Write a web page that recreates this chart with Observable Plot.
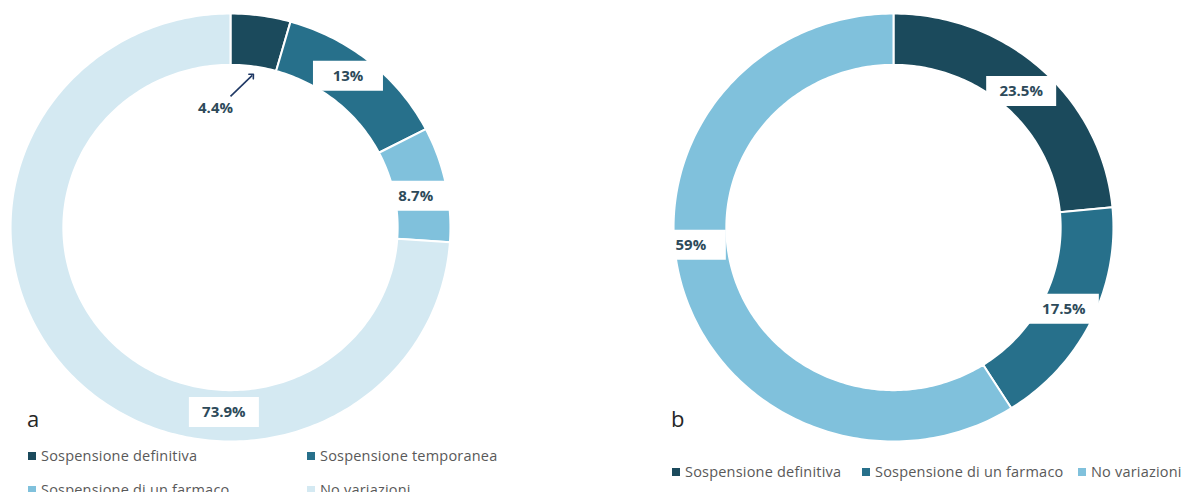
<!DOCTYPE html>
<html><head><meta charset="utf-8">
<script src="https://cdn.jsdelivr.net/npm/d3@7"></script>
<script src="https://cdn.jsdelivr.net/npm/@observablehq/plot@0.6"></script>
<style>
body{margin:0;background:#fff;font-family:"Open Sans",sans-serif;}
#root{position:relative;width:1192px;height:492px;overflow:hidden;background:#fff;}
.chart{position:absolute;top:0;}
.panel{position:absolute;font-size:22px;line-height:22px;color:#262626;}
.legend{position:absolute;font-size:14.5px;letter-spacing:0.2px;line-height:20px;height:20px;color:#595959;white-space:nowrap;}
.legend i{position:absolute;left:0;top:6px;width:8px;height:8px;}
.legend span{position:absolute;left:13px;top:0;}
</style></head><body><div id="root"></div>
<script>
// ---- Data: chart a ----
const categoriesA = ["Sospensione definitiva", "Sospensione temporanea", "Sospensione di un farmaco", "No variazioni"];
const valuesA = [4.4, 13, 8.7, 73.9];
const labelsA = ["4.4%", "13%", "8.7%", "73.9%"];
// ---- Data: chart b ----
const categoriesB = ["Sospensione definitiva", "Sospensione di un farmaco", "No variazioni"];
const valuesB = [23.5, 17.5, 59];
const labelsB = ["23.5%", "17.5%", "59%"];
const panelNames = ["a", "b"];

// ---- Styles / layout ----
const colorsA = ["#1b4a5c", "#27708b", "#80c1dc", "#d4e9f2"];
const colorsB = ["#1b4a5c", "#27708b", "#80c1dc"];
const OUTER = 40, INNER = 30.4, LABEL_R = 34.5; // ring radii as colatitude (deg)
const SQUASH = 0.973; // vertical/horizontal aspect of the rendered ring
// label placement overrides: angle in degrees clockwise from top, radius as colatitude
const placeA = [{angle: -7, r: 22.4, box: false, arrow: true}, {angle: 37, r: 35.5}, {angle: 80, r: 34.2}, {angle: 182}];
const placeB = [{}, {}, {angle: 265, r: 37}];

const boxSymbol = {draw(ctx) { ctx.rect(-35, -15, 70, 30); }};
const toLon = a => 180 - a, toLat = r => 90 - r;

function squashedRaw(l, p) {
  const q = d3.geoAzimuthalEquidistantRaw(l, p);
  return [q[0], q[1] * SQUASH];
}

function build(values, labels, colors, place) {
  const total = d3.sum(values);
  let acc = 0;
  const feats = [], labs = [], arrows = [];
  values.forEach((v, i) => {
    const t0 = acc / total * 360; acc += v; const t1 = acc / total * 360;
    const a = toLon(t1), b = toLon(t0);
    const n = Math.max(2, Math.ceil(b - a));
    const inner = d3.range(n + 1).map(k => [a + (b - a) * k / n, toLat(INNER)]);
    const outer = d3.range(n + 1).map(k => [b - (b - a) * k / n, toLat(OUTER)]);
    feats.push({type: "Feature", properties: {color: colors[i]},
      geometry: {type: "Polygon", coordinates: [[[a, toLat(OUTER)], ...inner, ...outer]]}});
    const p = place[i] || {};
    const mid = (t0 + t1) / 2;
    const ang = p.angle ?? mid, r = p.r ?? LABEL_R;
    labs.push({lon: toLon(ang), lat: toLat(r), label: labels[i], box: p.box !== false});
    if (p.arrow) arrows.push({x1: toLon(0), y1: toLat(24.5), x2: toLon(mid), y2: toLat(28.7)});
  });
  return {feats, labs, arrows};
}

function chart(values, labels, colors, place) {
  const {feats, labs, arrows} = build(values, labels, colors, place);
  return Plot.plot({
    width: 460, height: 454,
    marginLeft: 10, marginRight: 10, marginTop: 13, marginBottom: 13,
    style: {background: "transparent", overflow: "visible"},
    color: {type: "identity"},
    projection: {
      type: () => d3.geoProjection(squashedRaw).rotate([0, -90]),
      inset: 0,
      domain: d3.geoCircle().center([0, 90]).radius(OUTER)()
    },
    marks: [
      Plot.geo(feats, {fill: d => d.properties.color, stroke: "white", strokeWidth: 2}),
      Plot.dot(labs.filter(d => d.box), {x: "lon", y: "lat", symbol: boxSymbol, r: 10, fill: "white", stroke: "none"}),
      Plot.link(arrows, {x1: "x1", y1: "y1", x2: "x2", y2: "y2", stroke: "#1f3864", strokeWidth: 1.6, markerEnd: "arrow"}),
      Plot.text(labs, {x: "lon", y: "lat", text: "label", fontWeight: "bold", fontSize: 15,
        fontFamily: "Open Sans", fill: "#2d4a5a"})
    ]
  });
}

const root = document.getElementById("root");
const svgA = chart(valuesA, labelsA, colorsA, placeA);
svgA.classList.add("chart"); svgA.style.left = "0px";
root.appendChild(svgA);
const svgB = chart(valuesB, labelsB, colorsB, placeB);
svgB.classList.add("chart"); svgB.style.left = "663px";
root.appendChild(svgB);

function addText(cls, txt, x, y) {
  const d = document.createElement("div");
  d.className = cls; d.textContent = txt;
  d.style.left = x + "px"; d.style.top = y + "px";
  root.appendChild(d);
}
addText("panel", panelNames[0], 27, 407);
addText("panel", panelNames[1], 671, 407);

function legendItem(name, color, x, yc) {
  const d = document.createElement("div");
  d.className = "legend";
  d.style.left = x + "px"; d.style.top = (yc - 10) + "px";
  const i = document.createElement("i"); i.style.background = color;
  const s = document.createElement("span"); s.textContent = name;
  d.appendChild(i); d.appendChild(s);
  root.appendChild(d);
}
// legend a: two columns
const legA = [[28, 456], [307, 456], [28, 490], [307, 490]];
categoriesA.forEach((c, i) => legendItem(c, colorsA[i], legA[i][0], legA[i][1]));
const legB = [672, 862, 1078];
categoriesB.forEach((c, i) => legendItem(c, colorsB[i], legB[i], 472));
</script></body></html>
